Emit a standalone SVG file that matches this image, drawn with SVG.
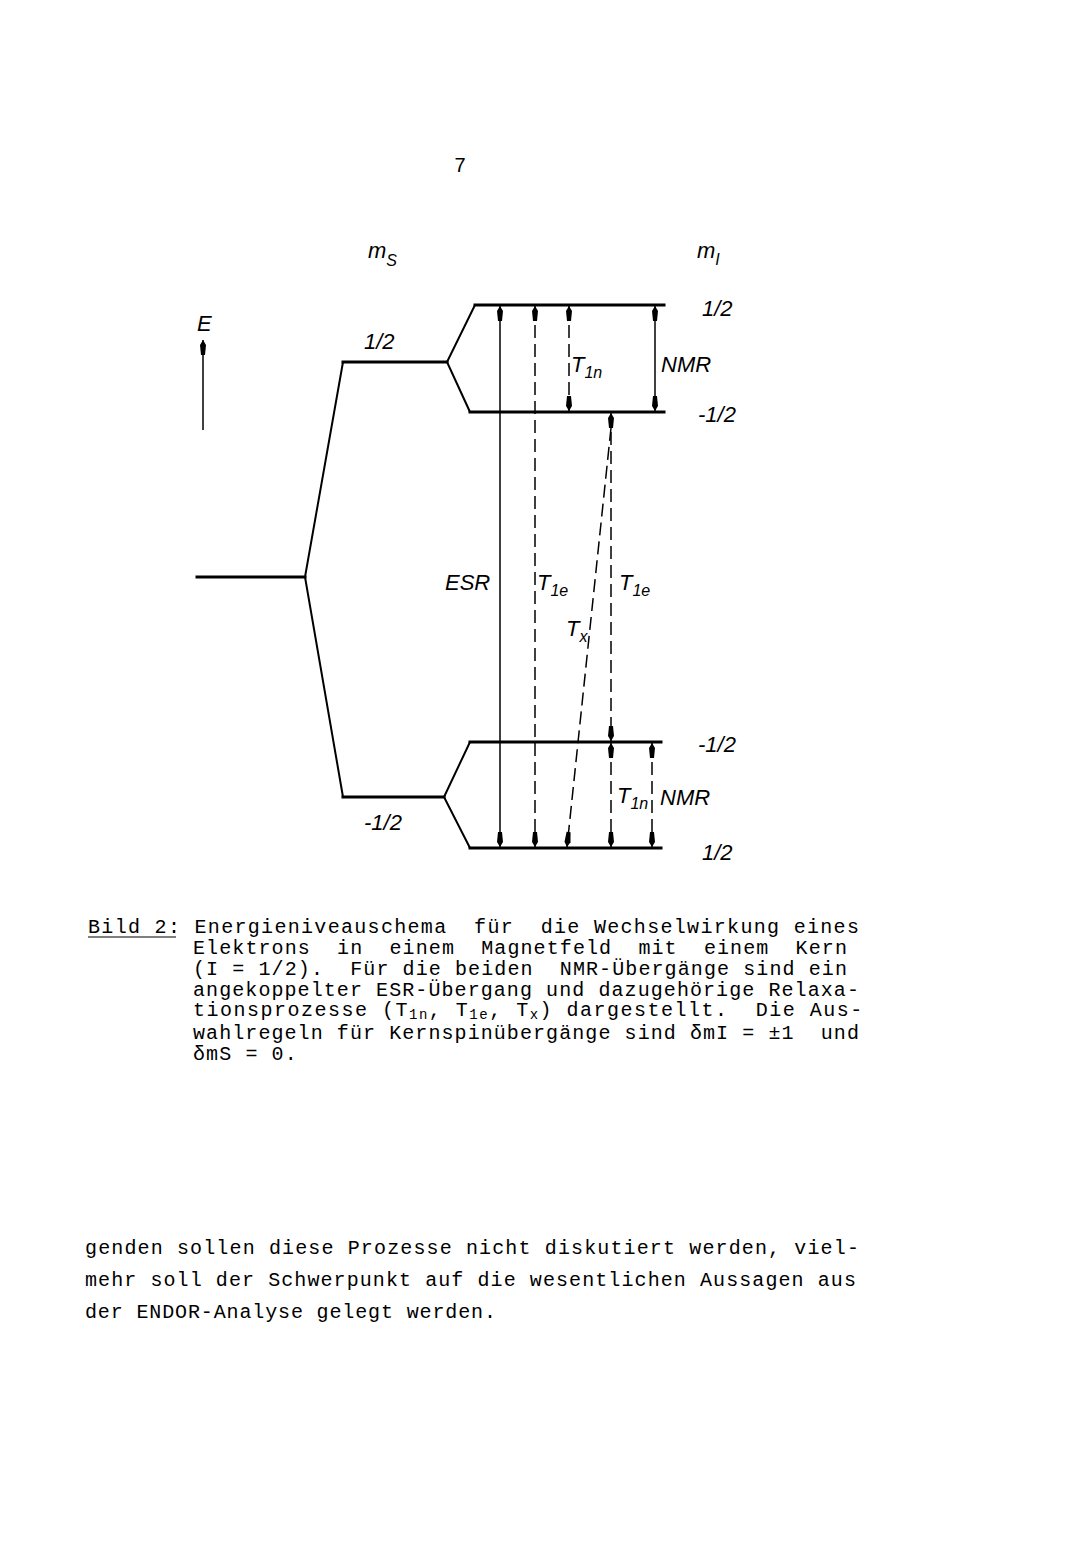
<svg xmlns="http://www.w3.org/2000/svg" width="1073" height="1547" viewBox="0 0 1073 1547">
<style>
.lbl{font-family:"Liberation Sans",Arial,sans-serif;font-style:italic;font-size:22px;fill:#000}
.sub{font-size:16px}
.mono{font-family:"Liberation Mono","DejaVu Sans Mono",monospace;font-size:20px;letter-spacing:1.1px;fill:#000}
.lev{stroke:#000;stroke-width:3;fill:none;stroke-linecap:square}
.diag{stroke:#000;stroke-width:2;fill:none}
.sol{stroke:#000;stroke-width:1.5;fill:none;marker-start:url(#ah);marker-end:url(#ah)}
.dash{stroke:#000;stroke-width:1.5;fill:none;stroke-dasharray:13 6;marker-start:url(#ah);marker-end:url(#ah)}
</style>
<defs>
<marker id="ah" viewBox="-16 -5 18 10" refX="0" refY="0" markerWidth="18" markerHeight="10" markerUnits="userSpaceOnUse" orient="auto-start-reverse">
<path d="M0,0 L-5,-3 L-15,-2 L-15,2 L-5,3 Z" fill="#000"/>
</marker>
</defs>
<rect width="1073" height="1547" fill="#fff"/>
<text x="460" y="172" font-family="Liberation Sans,Arial,sans-serif" font-size="20" text-anchor="middle">7</text>

<g id="axis-E">
<line x1="203" y1="430" x2="203" y2="340" stroke="#000" stroke-width="1.5" marker-end="url(#ah)"/>
<text class="lbl" x="197" y="331">E</text>
</g>
<g id="header-ms"><text class="lbl" x="368" y="258" font-size="24">m<tspan class="sub" dy="8">S</tspan></text></g>
<g id="header-mI"><text class="lbl" x="697" y="258" font-size="24">m<tspan class="sub" dy="7">I</tspan></text></g>

<g id="level-0"><line class="lev" x1="197" y1="577" x2="305" y2="577"/></g>
<g id="level-ms-up">
<line class="lev" x1="343" y1="362" x2="447" y2="362"/>
<text class="lbl" x="364" y="349">1/2</text>
</g>
<g id="level-ms-down">
<line class="lev" x1="343" y1="797" x2="444" y2="797"/>
<text class="lbl" x="364" y="830">-1/2</text>
</g>
<g id="level-up-up">
<line class="lev" x1="475" y1="305" x2="664" y2="305"/>
<text class="lbl" x="702" y="316">1/2</text>
</g>
<g id="level-up-down">
<line class="lev" x1="470" y1="412" x2="664" y2="412"/>
<text class="lbl" x="698" y="422">-1/2</text>
</g>
<g id="level-down-up">
<line class="lev" x1="470" y1="742" x2="661" y2="742"/>
<text class="lbl" x="698" y="752">-1/2</text>
</g>
<g id="level-down-down">
<line class="lev" x1="470" y1="848" x2="661" y2="848"/>
<text class="lbl" x="702" y="860">1/2</text>
</g>

<g id="splits">
<polyline class="diag" points="343,362 305,577 343,797"/>
<polyline class="diag" points="475,305 447,362 470,412"/>
<polyline class="diag" points="470,742 444,797 470,848"/>
</g>

<g id="connectors">
<line class="sol" x1="500" y1="306" x2="500" y2="847"/>
<line class="dash" x1="535" y1="306" x2="535" y2="847"/>
<line class="dash" x1="569" y1="306" x2="569" y2="411"/>
<line class="sol" x1="655" y1="306" x2="655" y2="411"/>
<line class="dash" x1="611" y1="413" x2="611" y2="741"/>
<line x1="611" y1="428" x2="567" y2="847" stroke="#000" stroke-width="1.5" stroke-dasharray="13 6" marker-end="url(#ah)"/>
<line class="dash" x1="611" y1="743" x2="611" y2="847"/>
<line class="dash" x1="652" y1="743" x2="652" y2="847"/>
</g>

<g id="labels">
<text class="lbl" x="571" y="372">T<tspan class="sub" dy="6">1n</tspan></text>
<text class="lbl" x="661" y="372">NMR</text>
<text class="lbl" x="445" y="590">ESR</text>
<text class="lbl" x="537" y="590">T<tspan class="sub" dy="6">1e</tspan></text>
<text class="lbl" x="619" y="590">T<tspan class="sub" dy="6">1e</tspan></text>
<text class="lbl" x="566" y="636">T<tspan class="sub" dy="6">x</tspan></text>
<text class="lbl" x="617" y="803">T<tspan class="sub" dy="6">1n</tspan></text>
<text class="lbl" x="660" y="805">NMR</text>
</g>

<g id="caption">
<text class="mono" x="88" y="933" textLength="772" lengthAdjust="spacing" xml:space="preserve">Bild 2: Energieniveauschema  für  die Wechselwirkung eines</text>
<line x1="88" y1="937" x2="176" y2="937" stroke="#000" stroke-width="1"/>
<text class="mono" x="193" y="954" textLength="655" lengthAdjust="spacing" xml:space="preserve">Elektrons  in  einem  Magnetfeld  mit  einem  Kern</text>
<text class="mono" x="193" y="975" textLength="655" lengthAdjust="spacing" xml:space="preserve">(I = 1/2).  Für die beiden  NMR-Übergänge sind ein</text>
<text class="mono" x="193" y="996" textLength="667" lengthAdjust="spacing">angekoppelter ESR-Übergang und dazugehörige Relaxa-</text>
<text class="mono" x="193" y="1016" xml:space="preserve" style="letter-spacing:1.5px">tionsprozesse (T<tspan dy="3" font-size="14">1n</tspan><tspan dy="-3">, T</tspan><tspan dy="3" font-size="14">1e</tspan><tspan dy="-3">, T</tspan><tspan dy="3" font-size="14">x</tspan><tspan dy="-3">) dargestellt.  Die Aus-</tspan></text>
<text class="mono" x="193" y="1039" textLength="667" lengthAdjust="spacing" xml:space="preserve">wahlregeln für Kernspinübergänge sind δmI = ±1  und</text>
<text class="mono" x="193" y="1060">δmS = 0.</text>
</g>

<g id="body">
<text class="mono" x="85" y="1254" textLength="775" lengthAdjust="spacing">genden sollen diese Prozesse nicht diskutiert werden, viel-</text>
<text class="mono" x="85" y="1286" textLength="772" lengthAdjust="spacing">mehr soll der Schwerpunkt auf die wesentlichen Aussagen aus</text>
<text class="mono" x="85" y="1318" textLength="412" lengthAdjust="spacing">der ENDOR-Analyse gelegt werden.</text>
</g>
</svg>
